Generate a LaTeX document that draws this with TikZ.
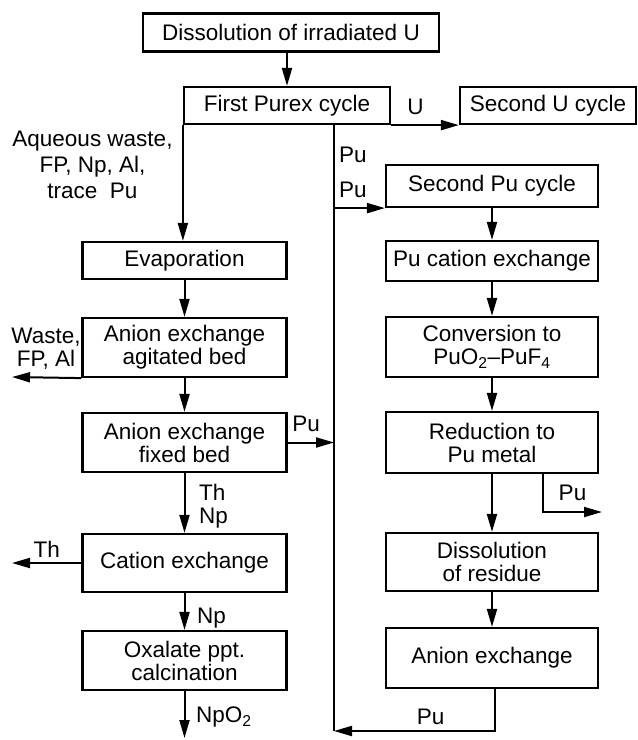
\documentclass[tikz,border=0pt]{standalone}
\usepackage{fontspec}
\setmainfont{Liberation Sans}
\usetikzlibrary{arrows.meta}

\begin{document}
\begin{tikzpicture}[x=1pt, y=-1pt,
    font=\fontsize{22.5}{23}\selectfont,
    stepbox/.style={draw, line width=2.2pt, align=center, inner sep=2pt, minimum width=#1},
    stepbox/.default=204pt,
    flow/.style={line width=2pt, -{Triangle[length=18pt,width=10pt]}},
    tag/.style={inner sep=0pt, align=center}]
    \useasboundingbox (0,0) rectangle (638,740);

    % Top row
    \node[stepbox=296pt, minimum height=38pt] (diss) at (291,32.5) {Dissolution of irradiated U};
    \node[stepbox=206pt, minimum height=37pt] (purex) at (287,105.5) {First Purex cycle};
    \node[stepbox=176pt, minimum height=37pt] (secu) at (548,105.5) {Second U cycle};

    % Left column
    \node[stepbox, minimum height=37pt] (evap) at (184.5,260.5) {Evaporation};
    \node[stepbox, minimum height=59pt] (agit) at (184.5,347.5) {Anion exchange\\agitated bed};
    \node[stepbox, minimum height=59pt] (fixed) at (184.5,442.5) {Anion exchange\\fixed bed};
    \node[stepbox, minimum height=58pt] (cat) at (184.5,563) {Cation exchange};
    \node[stepbox, minimum height=59pt] (oxa) at (184.5,660.5) {Oxalate ppt.\\calcination};

    % Right column
    \node[stepbox=212pt, minimum height=42pt] (spu) at (492,186) {Second Pu cycle};
    \node[stepbox=212pt, minimum height=40pt] (pucat) at (492,261) {Pu cation exchange};
    \node[stepbox=212pt, minimum height=60pt] (conv) at (492,347) {Conversion to\\PuO\textsubscript{2}--PuF\textsubscript{4}};
    \node[stepbox=212pt, minimum height=61pt] (red) at (492,442.5) {Reduction to\\Pu metal};
    \node[stepbox=212pt, minimum height=58pt] (res) at (492,562) {Dissolution\\of residue};
    \node[stepbox=212pt, minimum height=60pt] (anion) at (492,658) {Anion exchange};

    % Loose ends
    \coordinate (pubot) at (334,731);
    \coordinate (wasteend) at (12,377);
    \coordinate (thend) at (12,563);
    \coordinate (npend) at (184.5,738);
    \coordinate (puout) at (602,512);

    % Top flows
    \draw[flow] (purex.north |- diss.south) -- (purex.north);
    \draw[flow] (purex.south east) -- (secu.south west) node[pos=0.36, above=9pt, tag] {U};

    % Pu return line
    \draw[line width=2pt] (purex.south -| pubot) -- (pubot);
    \node[tag, anchor=west] (pua) at (339,155) {Pu};
    \node[tag, anchor=west] (pub) at (339,190) {Pu};
    \draw[flow] (spu.south west -| pubot) -- (spu.south west);

    % Main chains
    \draw[flow] (purex.south west) -- (purex.south west |- evap.north);
    \node[tag, font=\fontsize{22.5}{26}\selectfont] (aqw) at (92.5,165) {Aqueous waste,\\FP, Np, Al,\\trace\ \ Pu};
    \foreach \a/\b in {evap/agit, agit/fixed, fixed/cat, cat/oxa, spu/pucat, pucat/conv, conv/red, red/res, res/anion}
        \draw[flow] (\a.south) -- (\b.north);

    % Side streams, left
    \draw[flow] (agit.south west) -- (wasteend);
    \node[tag] (waste) at (46,349) {Waste,\\FP, Al};
    \draw[flow] (fixed.east) -- (fixed.east -| pubot) node[pos=0.4, above=10pt, tag] {Pu};
    \node[tag, anchor=west, align=left] (thnp) at (199,506) {Th\\Np};
    \draw[flow] (cat.west) -- (thend) node[midway, above=5pt, tag] {Th};
    \node[tag, anchor=west] (np) at (197,618) {Np};
    \draw[flow] (oxa.south) -- (npend);
    \node[tag, anchor=west] (npo) at (196,717) {NpO\textsubscript{2}};

    % Side streams, right
    \draw[flow] ([xshift=51pt]red.south) |- (puout) node[pos=0.75, above=10pt, tag] {Pu};
    \draw[flow] ([xshift=3pt]anion.south) |- (pubot) node[pos=0.7, above=5pt, tag] {Pu};
\end{tikzpicture}
\end{document}
